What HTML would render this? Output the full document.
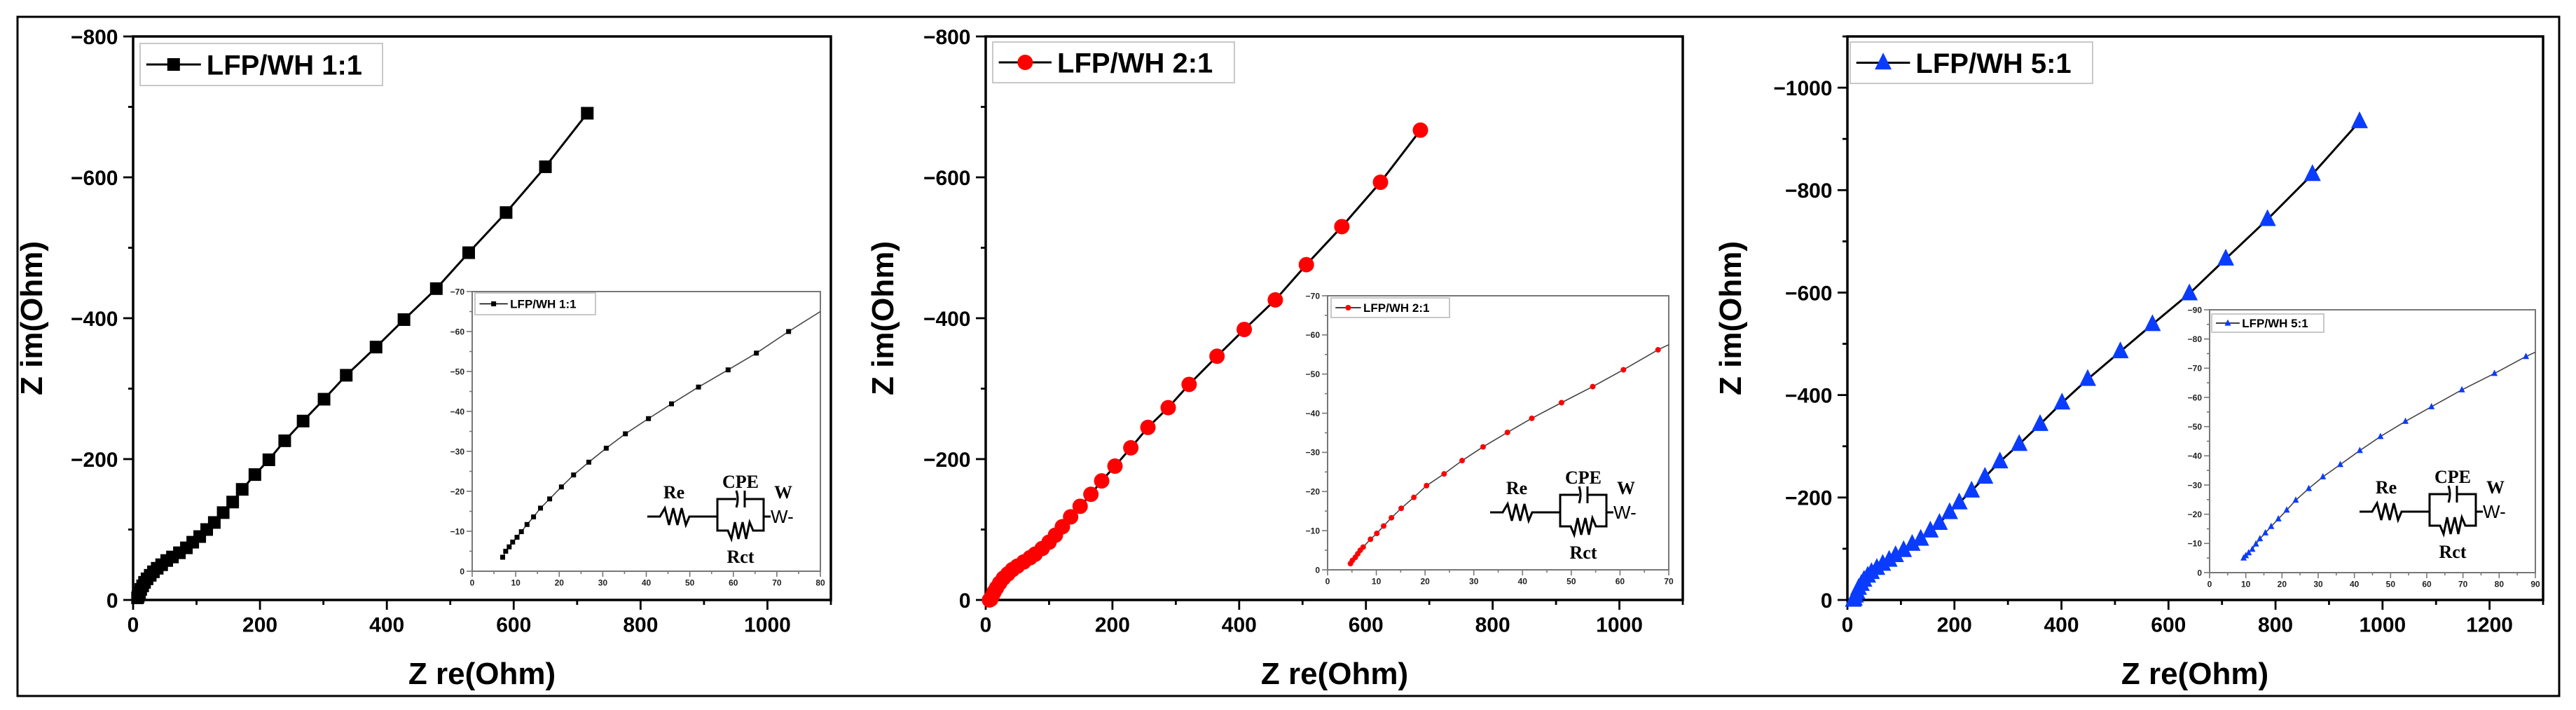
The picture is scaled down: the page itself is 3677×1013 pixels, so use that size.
<!DOCTYPE html>
<html><head><meta charset="utf-8"><style>
html,body{margin:0;padding:0;background:#fff;}
svg{display:block;}
text{font-family:"Liberation Sans",Arial,sans-serif;}
</style></head><body>
<svg id="fig" width="3677" height="1013" viewBox="0 0 3677 1013" xmlns="http://www.w3.org/2000/svg">
<rect x="0" y="0" width="3677" height="1013" fill="#fff"/>
<rect x="25" y="24" width="3628" height="969" fill="none" stroke="#000" stroke-width="3"/>
</svg>
<script>
// ---- data (Z re, -Z im) ----
const mainX1=[7,8,10,12,15,18,22,27,32,38,45,53,62,73,84,94,105,116,128,142,157,172,192,214,239,268,301,336,383,427,478,529,588,650,716];
const mainY1=[3,5,10,15,20,25,30,35,40,45,50,56,61,67,74,82,90,100,110,124,139,157,178,199,226,254,285,319,359,398,442,493,550,615,691];
const insX1=[7,7.7,8.5,9.3,10.3,11.3,12.6,14.1,15.7,17.8,20.5,23.3,26.8,30.8,35.2,40.5,45.8,52,58.8,65.3,72.7];
const insY1=[3.5,5,6.1,7.3,8.5,9.9,11.7,13.6,15.8,18.1,21.1,24.1,27.3,30.8,34.4,38.2,41.9,46.1,50.4,54.6,60];
const mainX2=[6,8,10,13,17,22,28,35,42,50,60,70,78,89,100,110,121,134,149,166,183,204,229,256,288,321,365,408,457,506,562,623,686];
const mainY2=[0,1,5,11,17,24,31,37,43,48,54,60,65,73,82,92,104,118,133,150,169,190,216,245,273,306,346,384,426,476,530,593,667];
const insX2=[4.7,5.1,5.7,6.2,6.7,7.3,8.8,10.1,11.5,13.1,15.1,17.7,20.3,23.9,27.6,31.9,36.9,41.9,48,54.4,60.7,67.8];
const insY2=[1.6,2.4,3.2,4.1,5,5.8,7.8,9.3,11.2,13.3,15.7,18.5,21.5,24.5,27.9,31.4,35.1,38.7,42.7,46.8,51.1,56.2];
const mainX3=[11,13,15,18,21,26,31,38,45,55,66,78,90,105,121,137,155,172,191,209,232,257,285,321,360,401,449,510,570,639,707,785,869,957];
const mainY3=[0,2,8,15,23,31,39,47,54,62,70,78,87,97,109,119,135,150,171,190,213,240,270,304,343,385,431,485,538,598,666,743,831,934];
const insX3=[9.4,10,10.8,11.8,12.8,13.9,15.4,17,19,21.3,23.8,27.4,31.3,36.1,41.5,47.2,54.1,61.3,69.7,78.7,87.4];
const insY3=[5,5.8,6.8,8,9.8,11.6,13.6,15.8,18.4,21.4,24.8,28.8,32.8,37,41.8,46.6,51.8,56.8,62.6,68.2,74];
// line ends (continuation past last inset marker)
const insEnd1=[80,65], insEnd2=[70,57.5], insEnd3=[90,75.5];
// tick labels
const mainXTicks1=[0,200,400,600,800,1000], mainYTicks1=[0,-200,-400,-600,-800];
const mainXTicks3=[0,200,400,600,800,1000,1200], mainYTicks3=[0,-200,-400,-600,-800,-1000];
const insXTicks1=[0,10,20,30,40,50,60,70,80], insYTicks1=[0,-10,-20,-30,-40,-50,-60,-70];
const insXTicks2=[0,10,20,30,40,50,60,70], insYTicks2=[0,-10,-20,-30,-40,-50,-60,-70];
const insXTicks3=[0,10,20,30,40,50,60,70,80,90], insYTicks3=[0,-10,-20,-30,-40,-50,-60,-70,-80,-90];
const labels=["LFP/WH 1:1","LFP/WH 2:1","LFP/WH 5:1"];

const NS="http://www.w3.org/2000/svg";
const svg=document.getElementById('fig');
function mk(tag,attrs,parent){const e=document.createElementNS(NS,tag);for(const k in attrs)e.setAttribute(k,attrs[k]);(parent||svg).appendChild(e);return e;}

function marker(g,type,x,y,s,color,name){
  let e;
  if(type==='sq'){e=mk('rect',{x:x-s/2,y:y-s/2,width:s,height:s,fill:color},g);}
  else if(type==='ci'){e=mk('circle',{cx:x,cy:y,r:s/2,fill:color},g);}
  else {e=mk('polygon',{points:`${x},${y-s*0.6} ${x-s/2},${y+s*0.4} ${x+s/2},${y+s*0.4}`,fill:color},g);}
  
  
  return e;
}

function axes(o){
  // o: l,r,t,b,xmax,ymax,xt,yt,minorX,minorY,fs,tickLen,sw,color,labelColor
  const g=mk('g',{});
  
  
  const sx=v=>o.l+(v/o.xmax)*(o.r-o.l);
  const sy=v=>o.b-(v/o.ymax)*(o.b-o.t);
  const fr=mk('rect',{x:o.l,y:o.t,width:o.r-o.l,height:o.b-o.t,fill:'#fff',stroke:o.color,'stroke-width':o.sw},g);
  
  
  for(let v=0;v<=o.xmax+1e-9;v+=o.minorX){
    const major=o.xt.some(t=>Math.abs(t-v)<1e-6);
    mk('line',{x1:sx(v),x2:sx(v),y1:o.b,y2:o.b+(major?o.tickLen:o.tickLen*0.5),stroke:o.color,'stroke-width':o.sw*0.8},g);
  }
  for(let v=0;v<=o.ymax+1e-9;v+=o.minorY){
    const major=o.yt.some(t=>Math.abs(Math.abs(t)-v)<1e-6);
    mk('line',{x1:o.l,x2:o.l-(major?o.tickLen:o.tickLen*0.5),y1:sy(v),y2:sy(v),stroke:o.color,'stroke-width':o.sw*0.8},g);
  }
  o.xt.forEach(t=>{const e=mk('text',{x:sx(t),y:o.b+o.tickLen+o.fs*1.05,'text-anchor':'middle','font-size':o.fs,'font-weight':'bold',fill:o.labelColor},g);e.textContent=t;
    
    });
  o.yt.forEach(t=>{const e=mk('text',{x:o.l-o.tickLen-o.fs*0.25,y:sy(Math.abs(t))+o.fs*0.36,'text-anchor':'end','font-size':o.fs,'font-weight':'bold',fill:o.labelColor},g);e.textContent=t===0?'0':'\u2212'+Math.abs(t);
    
    });
  return {g,sx,sy};
}

function series(ax,xs,ys,type,ms,color,lw,lineColor,end,name){
  const g=mk('g',{},ax.g);
  
  
  let pts=xs.map((x,i)=>ax.sx(x)+','+ax.sy(ys[i]));
  if(end) pts.push(ax.sx(end[0])+','+ax.sy(end[1]));
  mk('polyline',{points:pts.join(' '),fill:'none',stroke:lineColor,'stroke-width':lw},g);
  xs.forEach((x,i)=>marker(g,type,ax.sx(x),ax.sy(ys[i]),ms,color,'data-point'));
}

function legend(x,y,w,h,type,ms,color,text,fs,lw,name){
  const g=mk('g',{});
  
  
  mk('rect',{x:x,y:y,width:w,height:h,fill:'#fff',stroke:'#c8c8c8','stroke-width':2},g);
  const ly=y+h/2, lx1=x+h*0.08+4, lx2=lx1+h*1.3;
  mk('line',{x1:lx1,x2:lx2,y1:ly,y2:ly,stroke:'#000','stroke-width':lw},g);
  marker(g,type,(lx1+lx2)/2,ly,ms,color,'legend-marker');
  const t=mk('text',{x:lx2+fs*0.2,y:ly+fs*0.36,'font-size':fs,'font-weight':'bold',fill:'#000'},g);
  t.textContent=text;
}

function circuit(cx,wy,k,name){
  // cx: center of parallel box; wy: wire y; k scale
  const g=mk('g',{});
  
  
  const st={fill:'none',stroke:'#000','stroke-width':3*k,'stroke-linejoin':'miter'};
  const bl=cx-33*k, br=cx+33*k, bt=wy-25*k, bb=wy+20*k;
  // left wire + Re resistor
  const rx0=cx-133*k;
  let p=`M${rx0},${wy} L${rx0+18*k},${wy} `;
  const zz=[[25,-12],[31,12],[37,-12],[43,12],[49,-12],[55,12],[60,0]];
  zz.forEach(([dx,dy])=>p+=`L${rx0+dx*k},${wy+dy*k} `);
  p+=`L${bl},${wy}`;
  mk('path',Object.assign({d:p},st),g);
  // box with capacitor top
  mk('path',Object.assign({d:`M${bl},${wy} L${bl},${bt} L${cx-6*k},${bt} M${cx+6*k},${bt} L${br},${bt} L${br},${wy}`},st),g);
  mk('path',Object.assign({d:`M${cx-6*k},${bt-12*k} Q${cx-2*k},${bt} ${cx-6*k},${bt+12*k}`},st),g);
  mk('line',Object.assign({x1:cx+6*k,x2:cx+6*k,y1:bt-12*k,y2:bt+12*k},st),g);
  // bottom resistor Rct
  let q=`M${bl},${wy} L${bl},${bb} L${cx-18*k},${bb} `;
  [[-13,12],[-8,-12],[-3,12],[3,-12],[8,12],[13,-12],[18,0]].forEach(([dx,dy])=>q+=`L${cx+dx*k},${bb+dy*k} `);
  q+=`L${br},${bb} L${br},${wy}`;
  mk('path',Object.assign({d:q},st),g);
  mk('line',Object.assign({x1:br,x2:br+10*k,y1:wy,y2:wy},st),g);
  const fs=26*k;
  const tx=(s,x,y,anchor,fam,wt)=>{const t=mk('text',{x:x,y:y,'text-anchor':anchor,'font-size':fs,'font-weight':wt||'bold',fill:'#000'},g);t.setAttribute('style','font-family:'+(fam||'"Liberation Serif",serif'));t.textContent=s;};
  tx('CPE',cx,bt-16*k,'middle');
  tx('Re',rx0+38*k,wy-26*k,'middle');
  tx('W',br+28*k,wy-26*k,'middle');
  tx('Rct',cx,bb+46*k,'middle');
  tx('W-',br+10*k,wy+9*k,'start','"Liberation Sans",sans-serif','normal');
}

const panels=[
 {main:{l:190,r:1186,t:52,b:856,xmax:1100,ymax:800,xt:mainXTicks1,yt:mainYTicks1},
  ins:{l:674,r:1171,t:416,b:815,xmax:80,ymax:70,xt:insXTicks1,yt:insYTicks1,mx:5,my:5},
  mx:mainX1,my:mainY1,ix:insX1,iy:insY1,end:insEnd1,type:'sq',color:'#000',ms:18,ims:7,
  leg:[200,62,346,60],ileg:[678,418,172,31],circ:[1057,737],ytx:60,xtx:688},
 {main:{l:1407,r:2402,t:52,b:856,xmax:1100,ymax:800,xt:mainXTicks1,yt:mainYTicks1},
  ins:{l:1895,r:2382,t:422,b:813,xmax:70,ymax:70,xt:insXTicks2,yt:insYTicks2,mx:5,my:5},
  mx:mainX2,my:mainY2,ix:insX2,iy:insY2,end:insEnd2,type:'ci',color:'#ff0000',ms:22,ims:8,
  leg:[1417,60,345,58],ileg:[1900,425,169,28],circ:[2260,731],ytx:1275,xtx:1905},
 {main:{l:2637,r:3630,t:52,b:856,xmax:1300,ymax:1100,xt:mainXTicks3,yt:mainYTicks3},
  ins:{l:3154,r:3619,t:442,b:817,xmax:90,ymax:90,xt:insXTicks3,yt:insYTicks3,mx:5,my:5},
  mx:mainX3,my:mainY3,ix:insX3,iy:insY3,end:insEnd3,type:'tr',color:'#0a3cff',ms:24,ims:9,
  leg:[2641,60,346,59],ileg:[3157,448,160,26],circ:[3501,730],ytx:2485,xtx:3133}
];

panels.forEach((P,i)=>{
  const n=i+1;
  const A=axes(Object.assign({name:'main-plot-'+n,minorX:100,minorY:100,fs:30,tickLen:14,sw:3.5,color:'#000',labelColor:'#000'},P.main));
  series(A,P.mx,P.my,P.type,P.ms,P.color,3,'#000',null,'main-series-'+n);
  const yt=mk('text',{x:P.ytx,y:454,'text-anchor':'middle','font-size':44,'font-weight':'bold',transform:`rotate(-90 ${P.ytx} 454)`});
  yt.textContent='Z im(Ohm)';
  
  
  const xt=mk('text',{x:P.xtx,y:976,'text-anchor':'middle','font-size':44,'font-weight':'bold'});
  xt.textContent='Z re(Ohm)';
  
  
  legend(P.leg[0],P.leg[1],P.leg[2],P.leg[3],P.type,P.type==='tr'?24:(P.type==='ci'?22:18),P.color,labels[i],40,3,'legend-'+n);
  const I=axes(Object.assign({name:'inset-plot-'+n,minorX:P.ins.mx,minorY:P.ins.my,fs:12,tickLen:8,sw:2,color:'#777',labelColor:'#222'},P.ins));
  series(I,P.ix,P.iy,P.type,P.ims,P.color,1.6,'#444',P.end,'inset-series-'+n);
  legend(P.ileg[0],P.ileg[1],P.ileg[2],P.ileg[3],P.type,P.ims,P.color,labels[i],17,1.6,'inset-legend-'+n);
  circuit(P.circ[0],P.circ[1],1,'equivalent-circuit-'+n);
});
</script>
</body></html>
